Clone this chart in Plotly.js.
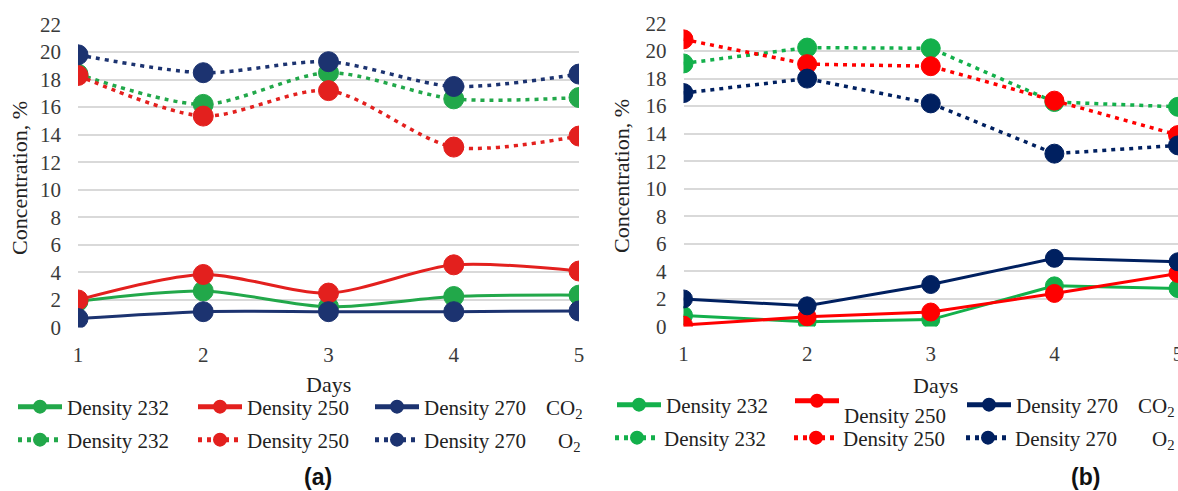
<!DOCTYPE html>
<html>
<head>
<meta charset="utf-8">
<script src="https://cdn.plot.ly/plotly-3.0.1.min.js"></script>
<style>html,body{margin:0;padding:0;background:#fff;}#chart{width:1178px;height:491px;}</style>
</head>
<body>
<div id="chart"></div>
<script>
// ---- data ----
var days = [1, 2, 3, 4, 5];
var seriesNames = ['Density 232', 'Density 250', 'Density 270'];
var yTicks = [0, 2, 4, 6, 8, 10, 12, 14, 16, 18, 20, 22];

// panel (a)
var a_co2_232 = [1.9, 2.65, 1.5, 2.25, 2.35];
var a_co2_250 = [2.0, 3.85, 2.5, 4.55, 4.1];
var a_co2_270 = [0.65, 1.15, 1.15, 1.15, 1.2];
var a_o2_232 = [18.4, 16.2, 18.5, 16.6, 16.7];
var a_o2_250 = [18.3, 15.35, 17.2, 13.1, 13.9];
var a_o2_270 = [19.8, 18.5, 19.3, 17.5, 18.4];

// panel (b)
var b_co2_232 = [0.8, 0.35, 0.5, 2.95, 2.75];
var b_co2_250 = [0.1, 0.7, 1.05, 2.4, 3.85];
var b_co2_270 = [2.0, 1.5, 3.05, 4.95, 4.7];
var b_o2_232 = [19.1, 20.25, 20.2, 16.3, 15.95];
var b_o2_250 = [20.85, 19.05, 18.9, 16.4, 13.9];
var b_o2_270 = [16.95, 18.0, 16.2, 12.55, 13.15];

// ---- styling ----
var W = 1178, H = 491;
function px(x) { return x / W; }
function py(y) { return 1 - y / H; }
var SERIF = 'Liberation Serif';
var SANS = 'Liberation Sans';
var colA = ['#22A84A', '#E3201E', '#1C3370'];
var colB = ['#13B04B', '#FF0000', '#002060'];
var dotDash = '4px,5px';

function tr(xa, ya, y, name, color, dash, shape, msize, legendId) {
  return {
    x: days, y: y, name: name, type: 'scatter', mode: 'lines+markers',
    xaxis: xa, yaxis: ya, legend: legendId,
    line: {color: color, width: dash ? 3.5 : 3, dash: dash || 'solid', shape: shape, smoothing: 0.8},
    marker: {color: color, size: msize, line: {color: color, width: 1}},
    hoverinfo: 'x+y+name'
  };
}

var data = [
  tr('x', 'y', a_co2_232, seriesNames[0], colA[0], null, 'spline', 20, 'legend'),
  tr('x', 'y', a_co2_250, seriesNames[1], colA[1], null, 'spline', 20, 'legend2'),
  tr('x', 'y', a_co2_270, seriesNames[2], colA[2], null, 'spline', 20, 'legend3'),
  tr('x', 'y', a_o2_232, seriesNames[0], colA[0], dotDash, 'spline', 20, 'legend4'),
  tr('x', 'y', a_o2_250, seriesNames[1], colA[1], dotDash, 'spline', 20, 'legend5'),
  tr('x', 'y', a_o2_270, seriesNames[2], colA[2], dotDash, 'spline', 20, 'legend6'),
  tr('x2', 'y2', b_co2_232, seriesNames[0], colB[0], null, 'linear', 18, 'legend7'),
  tr('x2', 'y2', b_co2_250, '&nbsp;<br>' + seriesNames[1], colB[1], null, 'linear', 18, 'legend8'),
  tr('x2', 'y2', b_co2_270, seriesNames[2], colB[2], null, 'linear', 18, 'legend9'),
  tr('x2', 'y2', b_o2_232, seriesNames[0], colB[0], dotDash, 'linear', 19, 'legend10'),
  tr('x2', 'y2', b_o2_250, seriesNames[1], colB[1], dotDash, 'linear', 19, 'legend11'),
  tr('x2', 'y2', b_o2_270, seriesNames[2], colB[2], dotDash, 'linear', 19, 'legend12')
];

var tickFont = {family: SERIF, size: 21, color: '#3a3a3a'};
var legFont = {family: SERIF, size: 21, color: '#222'};
var txtFont = {family: SERIF, size: 22, color: '#222'};

function xAxis(dom, anchor) {
  return {domain: dom, anchor: anchor, range: [1, 5], tickvals: days, ticktext: days.map(String),
    showgrid: false, zeroline: false, showline: false, ticks: '', tickfont: tickFont,
    ticklabelstandoff: 12, ticklabeloverflow: 'allow', fixedrange: true};
}
function yAxis(dom, anchor) {
  return {domain: dom, anchor: anchor, range: [0, 22], tickvals: yTicks,
    showgrid: true, gridcolor: '#d9d9d9', gridwidth: 1.5, zeroline: false, showline: false,
    ticks: '', tickfont: tickFont, ticklabelstandoff: 16, fixedrange: true};
}

function leg(xpix, ypix) {
  return {x: px(xpix), y: py(ypix), xanchor: 'left', yanchor: 'middle', orientation: 'h',
    font: legFont, bgcolor: 'rgba(0,0,0,0)', borderwidth: 0, itemwidth: 44,
    itemsizing: 'constant', itemclick: false, itemdoubleclick: false};
}

function ann(text, xpix, ypix, xanchor, font, angle) {
  return {text: text, x: px(xpix), y: py(ypix), xref: 'paper', yref: 'paper',
    xanchor: xanchor, yanchor: 'middle', showarrow: false, font: font, textangle: angle || 0};
}

var layout = {
  width: W, height: H,
  margin: {l: 0, r: 0, t: 0, b: 0},
  font: {family: SERIF, size: 21, color: '#222'},
  paper_bgcolor: '#fff', plot_bgcolor: '#fff',
  showlegend: true,
  xaxis: xAxis([px(78), px(579)], 'y'),
  yaxis: yAxis([py(327.5), py(24.5)], 'x'),
  xaxis2: xAxis([px(683.5), 1], 'y2'),
  yaxis2: yAxis([py(326.5), py(23.5)], 'x2'),
  legend: leg(13, 407), legend2: leg(193, 407), legend3: leg(370, 407),
  legend4: leg(13, 440), legend5: leg(193, 440), legend6: leg(370, 440),
  legend7: leg(612, 405), legend8: leg(790, 401), legend9: leg(962, 405),
  legend10: leg(610, 438), legend11: leg(789, 438), legend12: leg(961, 438),
  annotations: [
    ann('Concentration, %', 19, 178, 'center', txtFont, -90),
    ann('Concentration, %', 622, 176, 'center', txtFont, -90),
    ann('Days', 328, 384, 'center', txtFont),
    ann('Days', 935, 385, 'center', txtFont),
    ann('CO<sub>2</sub>', 544, 409, 'left', legFont),
    ann('O<sub>2</sub>', 556, 442, 'left', legFont),
    ann('CO<sub>2</sub>', 1136, 407, 'left', legFont),
    ann('O<sub>2</sub>', 1150, 440, 'left', legFont),
    ann('<b>(a)</b>', 318, 477, 'center', {family: SANS, size: 23, color: '#111'}),
    ann('<b>(b)</b>', 1085, 477, 'center', {family: SANS, size: 23, color: '#111'})
  ]
};

Plotly.newPlot('chart', data, layout, {displayModeBar: false, responsive: false});
</script>
</body>
</html>
